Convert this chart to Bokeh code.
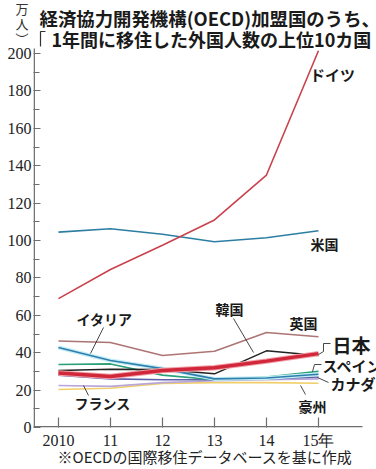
from bokeh.plotting import figure
from bokeh.models import Label, Range1d, FixedTicker
from bokeh.embed import file_html
from bokeh.resources import INLINE

# ---- data (万人) ----
years = [2010, 2011, 2012, 2013, 2014, 2015]
year_labels = ["2010", "11", "12", "13", "14", "15年"]
y_ticks = [0, 20, 40, 60, 80, 100, 120, 140, 160, 180, 200]
y_minor = [10, 30, 50, 70, 90, 110, 130, 150, 170, 190]
germany = [68.9, 84.5, 97.5, 111.0, 135.0, 201.5]
usa = [104.5, 106.3, 103.3, 99.3, 101.5, 105.2]
uk = [46.3, 45.5, 38.5, 40.8, 50.8, 48.5]
japan = [29.2, 27.3, 30.5, 32.0, 35.5, 39.5]
korea = [30.5, 31.2, 31.0, 28.7, 41.0, 38.5]
italy = [42.8, 35.8, 31.5, 26.0, 26.5, 28.5]
spain = [33.7, 34.0, 28.0, 25.5, 27.0, 30.0]
canada = [28.0, 26.0, 25.5, 25.5, 26.0, 27.0]
france = [22.5, 22.0, 24.0, 25.0, 25.5, 26.0]
australia = [20.3, 21.0, 23.5, 24.0, 24.0, 23.7]

CJK = "Noto Sans CJK JP"
SERIF = "Liberation Serif"
AX = "#6e6e6e"

FL, FB = 33, 427          # frame left / bottom in px
X0, XS = 2009.52, 52.0    # value at frame left, px per year
PXY = 1.87                # px per 万人
Y_TOP = FB / PXY


def dx(px):
    return X0 + (px - FL) / XS


def dy(py):
    return (FB - py) / PXY


p = figure(width=376, height=469, output_backend="svg", toolbar_location=None,
           x_range=Range1d(X0, X0 + (376 - FL) / XS), y_range=Range1d(0, Y_TOP),
           min_border_left=FL, min_border_right=0, min_border_top=0,
           min_border_bottom=469 - FB)
p.outline_line_color = None
p.xgrid.visible = False
p.ygrid.visible = False
p.background_fill_color = "white"
p.border_fill_color = "white"

# axes
p.yaxis.ticker = FixedTicker(ticks=y_ticks, minor_ticks=y_minor)
p.yaxis.major_tick_in = 7
p.yaxis.major_tick_out = 0
p.yaxis.minor_tick_in = 6
p.yaxis.minor_tick_out = 0
p.yaxis.major_label_standoff = 2
p.xaxis.ticker = FixedTicker(ticks=years)
p.xaxis.major_label_overrides = {y: l for y, l in zip(years, year_labels)}
p.xaxis.major_tick_in = 10
p.xaxis.major_tick_out = 0
p.xaxis.major_label_standoff = 4
for ax in (p.xaxis, p.yaxis):
    ax.axis_line_color = None
    ax.major_tick_line_color = AX
    ax.major_tick_line_width = 1.2
    ax.minor_tick_line_color = AX
    ax.major_label_text_font = SERIF
    ax.major_label_text_font_size = "16px"
    ax.major_label_text_color = "#222"
p.xaxis.minor_tick_line_color = None

# source note as x-axis label
p.xaxis.axis_label = "※OECDの国際移住データベースを基に作成"
p.xaxis.axis_label_text_font = CJK
p.xaxis.axis_label_text_font_style = "normal"
p.xaxis.axis_label_text_font_size = "15px"
p.xaxis.axis_label_text_color = "#222"
p.xaxis.axis_label_standoff = -6

# unit as y-axis label (vertical, upright), pushed down by blank lines
p.yaxis.axis_label = "\u3000\n\u3000\n︵\n万\n人\n︶"
p.yaxis.axis_label_orientation = "horizontal"
p.yaxis.axis_label_align = "end"
p.yaxis.axis_label_text_font = CJK
p.yaxis.axis_label_text_font_style = "normal"
p.yaxis.axis_label_text_font_size = "13px"
p.yaxis.axis_label_text_line_height = 0.8
p.yaxis.axis_label_text_color = "#333"
p.yaxis.axis_label_standoff = -24

# axis lines
p.line([dx(FL + 0.7)] * 2, [0, dy(48)], line_color=AX, line_width=1.5)
p.line([X0, dx(362)], [dy(FB - 0.7)] * 2, line_color=AX, line_width=1.5)

# lines (back to front)
p.line(years, australia, line_color="#f0cf6a", line_width=1.6)
p.line(years, france, line_color="#b9a6d9", line_width=1.6)
p.line(years, canada, line_color="#5f5fa8", line_width=1.6)
p.line(years, spain, line_color="#2a9f78", line_width=1.6)
p.line(years, italy, line_color="#c3eef3", line_width=4)
p.line(years, italy, line_color="#2f7fae", line_width=1.6)
p.line(years, korea, line_color="#222222", line_width=1.5)
p.line(years, uk, line_color="#ad7474", line_width=1.5)
p.line(years, japan, line_color="#f2a0a8", line_width=5.5)
p.line(years, japan, line_color="#d0283a", line_width=3.5)
p.line(years, usa, line_color="#2d7ea3", line_width=1.6)
p.line(years, germany, line_color="#c9424d", line_width=1.6)


def lead(pts, w=0.9):
    p.line([dx(a) for a, b in pts], [dy(b) for a, b in pts],
           line_color="#333", line_width=w)


lead([(103, 327), (90, 353)])          # イタリア
lead([(83, 385), (88, 395)])           # フランス
lead([(233, 318), (253, 352)])         # 韓国
lead([(318, 354), (323, 351), (323, 343), (330, 343)])  # 日本
lead([(312, 371), (314, 364), (321, 364)])              # スペイン
lead([(317, 377), (328, 382)])         # カナダ
lead([(300, 385), (305, 394)])         # 豪州
lead([(45, 31), (40, 31), (40, 46)], w=1.2)             # title bracket


def lab(text, cx, cy, size, align="center", weight="bold", font=CJK, color="#1a1a1a"):
    p.add_layout(Label(x=dx(cx), y=dy(cy), text=text, text_font=font,
                       text_font_size=f"{size}px", text_font_style=weight,
                       text_align=align, text_baseline="middle",
                       text_color=color))


lab("ドイツ", 332, 74, 15)
lab("米国", 324, 243, 14)
lab("イタリア", 104, 318, 14)
lab("フランス", 102, 402, 14)
lab("韓国", 229, 308, 14)
lab("英国", 303, 322, 14)
lab("日本", 332, 344, 19, align="left")
lab("スペイン", 322, 365, 15, align="left")
lab("カナダ", 330, 383, 15, align="left")
lab("豪州", 312, 405, 14)

# title
lab("経済協力開発機構(OECD)加盟国のうち、", 39, 17, 18.4, align="left")
lab("1年間に移住した外国人数の上位10カ国", 51, 38, 18, align="left")

open("out.html", "w").write(file_html(p, INLINE))
